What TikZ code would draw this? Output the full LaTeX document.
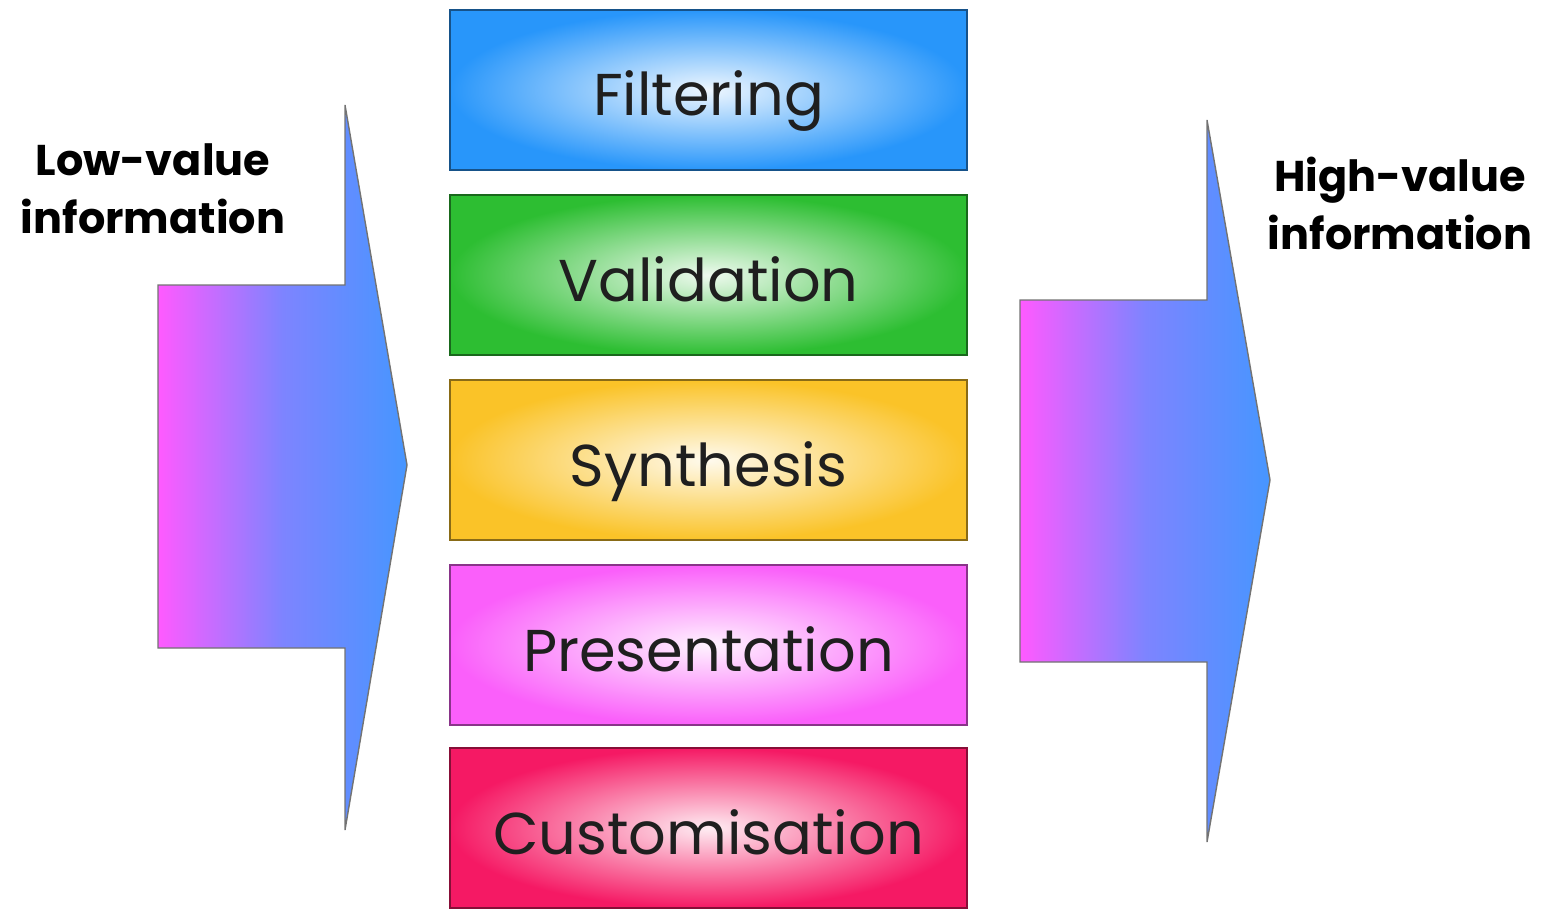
\documentclass[tikz,border=0pt]{standalone}
\usepackage{fontspec}
\setmainfont{Poppins}
\definecolor{cblue}{RGB}{40,150,250}
\definecolor{cgreen}{RGB}{45,190,50}
\definecolor{cyellow}{RGB}{250,195,40}
\definecolor{cmag}{RGB}{250,95,250}
\definecolor{cred}{RGB}{245,25,100}
\definecolor{amag}{RGB}{255,90,255}
\definecolor{ablue}{RGB}{70,150,255}
\tikzset{
  stagebox/.style={draw=#1!55!black, line width=0.8pt, shade, inner color=#1!8, outer color=#1,
    minimum width=258.5pt, minimum height=80pt, inner sep=0pt,
    text height=26pt, text depth=0pt,
    font=\fontsize{29.5}{34}\selectfont, text=black!88},
  bigarrow/.style={draw=black!55, line width=0.7pt, left color=amag, right color=ablue, middle color=ablue!70!amag},
  sidelabel/.style={align=center, font=\bfseries\fontsize{21.5}{29}\selectfont, text=black, inner sep=0pt}
}
\begin{document}
\begin{tikzpicture}[x=0.5pt, y=-0.5pt]
\useasboundingbox (0,0) rectangle (1545,909);
% left arrow
\coordinate (la1) at (158,285);
\coordinate (la2) at (345,285);
\coordinate (la3) at (345,105);
\coordinate (la4) at (407,465);
\coordinate (la5) at (345,830);
\coordinate (la6) at (345,648);
\coordinate (la7) at (158,648);
\path[bigarrow] (la1) -- (la2) -- (la3) -- (la4) -- (la5) -- (la6) -- (la7) -- cycle;
% right arrow
\coordinate (ra1) at (1020,300);
\coordinate (ra2) at (1207,300);
\coordinate (ra3) at (1207,120);
\coordinate (ra4) at (1270,480);
\coordinate (ra5) at (1207,842);
\coordinate (ra6) at (1207,662);
\coordinate (ra7) at (1020,662);
\path[bigarrow] (ra1) -- (ra2) -- (ra3) -- (ra4) -- (ra5) -- (ra6) -- (ra7) -- cycle;
% boxes
\node[stagebox=cblue] (filt) at (708.5,90) {Filtering};
\node[stagebox=cgreen] (vali) at (708.5,275) {Validation};
\node[stagebox=cyellow] (synt) at (708.5,460) {Synthesis};
\node[stagebox=cmag] (pres) at (708.5,645) {Presentation};
\node[stagebox=cred] (cust) at (708.5,828) {Customisation};
% labels
\node[sidelabel] (low) at (153,189) {Low-value\\information};
\node[sidelabel] (high) at (1400,203) {High-value\\information};
\end{tikzpicture}
\end{document}
